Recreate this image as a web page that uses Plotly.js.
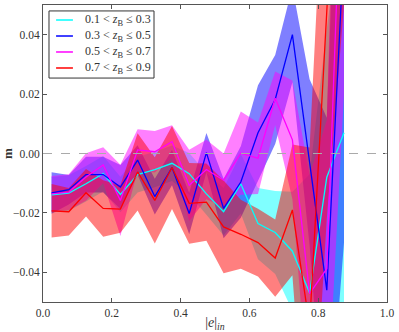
<!DOCTYPE html>
<html><head><meta charset="utf-8">
<script src="https://cdn.plot.ly/plotly-3.0.1.min.js"></script>
<style>html,body{margin:0;padding:0;background:#fff}#chart{width:399px;height:332px}</style>
</head><body><div id="chart"></div>
<script>
const ePos = [0.025,0.075,0.125,0.175,0.225,0.275,0.325,0.375,0.425,0.475,0.525,0.575,0.625,0.675,0.725,0.775,0.825,0.875];
const seriesNames = ['0.1 &lt; <i>z</i><sub>B</sub> ≤ 0.3','0.3 &lt; <i>z</i><sub>B</sub> ≤ 0.5','0.5 &lt; <i>z</i><sub>B</sub> ≤ 0.7','0.7 &lt; <i>z</i><sub>B</sub> ≤ 0.9'];
const mCyan    = [-0.0139,-0.0133,-0.0102,-0.0068,-0.0138,-0.0071,-0.0054,-0.0033,-0.0068,-0.0136,-0.0196,-0.0102,-0.0236,-0.0266,-0.0329,-0.0470,-0.0080,0.0070];
const errCyan  = [0.006,0.006,0.006,0.006,0.006,0.006,0.006,0.006,0.007,0.007,0.008,0.010,0.012,0.014,0.020,0.040,0.050,0.080];
const mBlue    = [-0.0133,-0.0122,-0.0071,-0.0071,-0.0113,-0.0022,-0.0145,-0.0047,-0.0202,0.0003,-0.0185,-0.0096,0.0070,0.0182,0.0400,-0.0030,-0.0460,0.0700];
const errBlue  = [0.007,0.005,0.006,0.006,0.0074,0.005,0.006,0.006,0.007,0.0066,0.010,0.012,0.016,0.015,0.016,0.028,0.058,0.100];
const mMagenta = [-0.0136,-0.0130,-0.0079,-0.0039,-0.0158,0.0012,0.0006,0.0040,-0.0107,-0.0054,-0.0090,0.0001,-0.0016,0.0186,0.0046,-0.0472,-0.0388,0.1200];
const errMagenta=[0.006,0.006,0.008,0.006,0.012,0.007,0.007,0.0055,0.012,0.010,0.009,0.014,0.012,0.009,0.020,0.040,0.050,0.100];
const mRed     = [-0.0193,-0.0196,-0.0132,-0.0185,-0.0187,-0.0062,-0.0158,-0.0047,-0.0168,-0.0164,-0.0247,-0.0272,-0.0300,-0.0352,-0.0190,-0.0580,0.0480,0.1500];
const errRed   = [0.009,0.008,0.008,0.0095,0.008,0.013,0.0145,0.014,0.0136,0.013,0.0156,0.0116,0.0114,0.013,0.022,0.060,0.070,0.100];
const xTicks = [0,0.2,0.4,0.6,0.8,1.0];
const yTicks = [-0.04,-0.02,0,0.02,0.04];

const series = [
  {m:mCyan, e:errCyan, line:'#00ffff', fill:'rgba(0,255,255,0.5)'},
  {m:mBlue, e:errBlue, line:'#0000ff', fill:'rgba(0,0,255,0.5)'},
  {m:mMagenta, e:errMagenta, line:'#ff00ff', fill:'rgba(255,0,255,0.5)'},
  {m:mRed, e:errRed, line:'#ff0000', fill:'rgba(255,0,0,0.5)'}
];
const traces = [];
series.forEach((s,k)=>{
  const up = s.m.map((v,i)=>v+s.e[i]);
  const lo = s.m.map((v,i)=>v-s.e[i]);
  traces.push({x: ePos.concat(ePos.slice().reverse()), y: up.concat(lo.slice().reverse()),
    type:'scatter', mode:'lines', fill:'toself', fillcolor:s.fill, line:{width:0}, hoverinfo:'skip', showlegend:false});
});
series.forEach((s,k)=>{
  traces.push({x: ePos, y: s.m, type:'scatter', mode:'lines', name: seriesNames[k], showlegend:false, line:{color:s.line, width:1.3}});
});
const serif = 'Liberation Serif, DejaVu Serif, serif';
// manual legend (paper coords)
const legShapes = [{type:'rect', xref:'paper', yref:'paper', x0:0.0174, x1:0.3227, y0:0.754, y1:0.98,
  fillcolor:'#fff', line:{color:'#333', width:1}, layer:'above'}];
const legAnn = [];
const legY = [0.9495, 0.8956, 0.8418, 0.7879];
series.forEach((s,k)=>{
  legShapes.push({type:'line', xref:'paper', yref:'paper', x0:0.038, x1:0.087, y0:legY[k], y1:legY[k],
    line:{color:s.line, width:1.5}, layer:'above'});
  legAnn.push({xref:'paper', yref:'paper', x:0.116, y:legY[k], xanchor:'left', yanchor:'middle', showarrow:false,
    text: seriesNames[k], font:{family:serif, size:12, color:'#333'}});
});
const layout = {
  width:399, height:332, margin:{l:43, r:12, t:5, b:30},
  paper_bgcolor:'#fff', plot_bgcolor:'#fff', font: {family:serif, size:11.5, color:'#333'},
  showlegend:false,
  xaxis:{range:[0,1], tickvals:xTicks, ticktext:xTicks.map(v=>v.toFixed(1)), ticks:'inside', ticklen:4, tickcolor:'#555',
         showline:true, linecolor:'#555', linewidth:1, mirror:'allticks', showgrid:false, zeroline:false,
         title:{text:'|<i>e</i>|<sub><i>in</i></sub>', font:{family:serif, size:14}, standoff:0}},
  yaxis:{range:[-0.05,0.05], tickvals:yTicks, ticktext:yTicks.map(v=>(v<0?'\u2212':'')+Math.abs(v).toFixed(2)), ticks:'inside', ticklen:4, tickcolor:'#555',
         showline:true, linecolor:'#555', linewidth:1, mirror:'allticks', showgrid:false, zeroline:false,
         title:{text:'<b>m</b>', font:{family:serif, size:13}, standoff:4}},
  shapes:[{type:'line', xref:'paper', x0:0, x1:1, yref:'y', y0:0, y1:0, line:{color:'#aaa', width:1, dash:'dash'}, layer:'above'}].concat(legShapes),
  annotations: legAnn
};
Plotly.newPlot('chart', traces, layout, {displayModeBar:false, staticPlot:true});
</script></body></html>
